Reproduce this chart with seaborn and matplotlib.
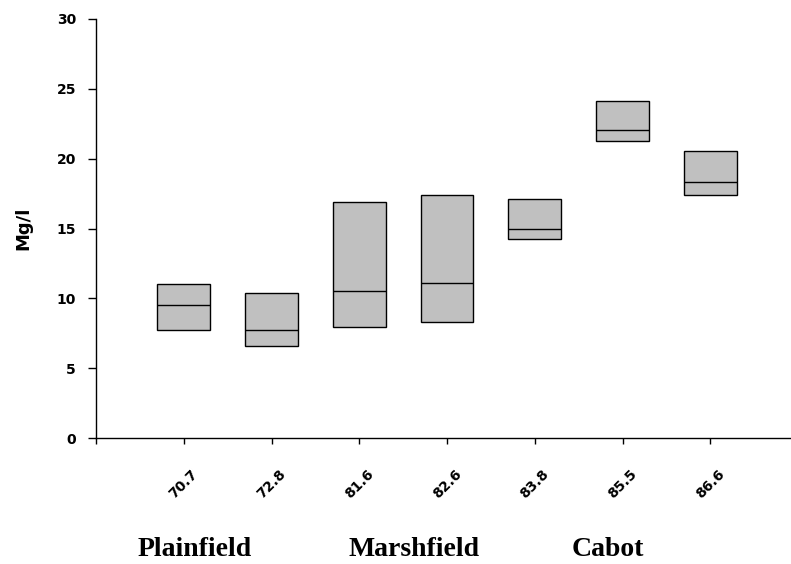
import numpy as np
import pandas as pd
import matplotlib
matplotlib.use("Agg")
import matplotlib.pyplot as plt
import matplotlib.transforms as mtransforms
import seaborn as sns

# ---- data ----
sites = ["70.7", "72.8", "81.6", "82.6", "83.8", "85.5", "86.6"]
lower = [7.73, 6.56, 7.97, 8.33, 14.24, 21.30, 17.39]
median = [9.52, 7.70, 10.49, 11.09, 15.00, 22.02, 18.30]
upper = [11.02, 10.38, 16.89, 17.37, 17.11, 24.12, 20.57]
towns = ["Plainfield", "Marshfield", "Cabot"]
town_x = [0.12, 2.63, 4.83]
y_ticks = [0, 5, 10, 15, 20, 25, 30]

# five values per site so the quartiles equal lower / upper, median in the middle
rows = []
for s, lo, me, up in zip(sites, lower, median, upper):
    for v in (lo, lo, me, up, up):
        rows.append((s, v))
df = pd.DataFrame(rows, columns=["site", "mg"])

sns.set_theme(style="ticks")
plt.rcParams["font.family"] = ["DejaVu Sans"]

W, H = 791, 564
fig = plt.figure(figsize=(W / 100, H / 100), dpi=100)
ax = fig.add_axes([96 / W, 1 - 438 / H, 1 - 96 / W, (438 - 19) / H])

sns.boxplot(data=df, x="site", y="mg", order=sites, ax=ax, width=0.6,
            color="#C0C0C0", saturation=1, linecolor="black", linewidth=1,
            showcaps=False, fliersize=0, whis=1.5)

ax.set_xlim(-1, 6.92)
ax.set_ylim(0, 30)
ax.set_yticks(y_ticks)
ax.set_yticklabels([str(t) for t in y_ticks], fontsize=10, fontweight="bold")
ax.set_xticks(range(len(sites)))
ax.set_xticklabels(sites, rotation=45, rotation_mode="anchor", ha="center",
                   va="center", fontsize=10, fontweight="bold")
ax.set_xticks([-1], minor=True)
ax.tick_params(axis="x", which="both", direction="out", length=4.3, width=1,
               color="black", pad=28.8, labelcolor="black")
ax.tick_params(axis="y", direction="out", length=5.8, width=1, color="black",
               pad=8.6, labelcolor="black")
for sp in ("top", "right"):
    ax.spines[sp].set_visible(False)
for sp in ("left", "bottom"):
    ax.spines[sp].set_linewidth(1)
    ax.spines[sp].set_color("black")

ax.set_xlabel("")
ax.set_ylabel("Mg/l", fontsize=13, fontweight="bold", color="black")
ax.yaxis.set_label_coords(-0.092, 0.5)

trans = mtransforms.blended_transform_factory(ax.transData, fig.transFigure)
for name, xpos in zip(towns, town_x):
    ax.text(xpos, 1 - 549 / H, name, transform=trans, ha="center", va="center",
            fontsize=20, fontweight="bold", family=["Liberation Serif", "DejaVu Serif"],
            color="black")

fig.savefig("out.png", dpi=100)
